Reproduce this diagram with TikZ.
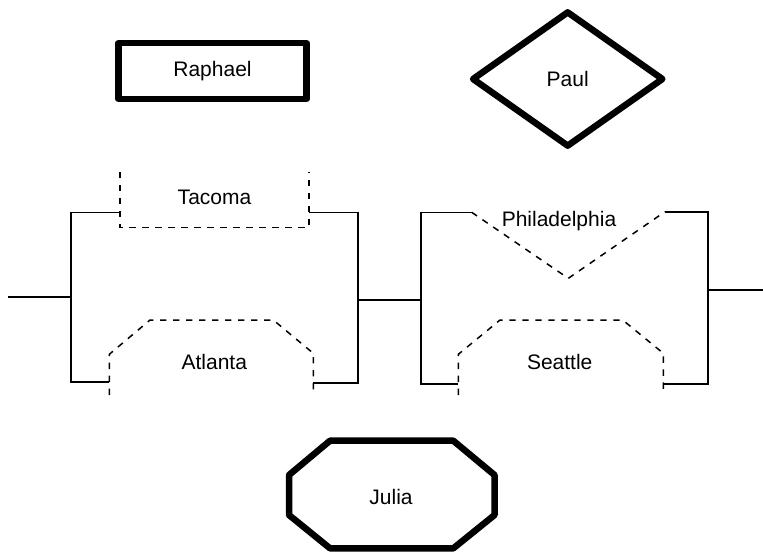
\documentclass[tikz,border=0pt]{standalone}
\usepackage{fontspec}
\setmainfont{Liberation Sans}
\usepackage{tikz}
\usetikzlibrary{shapes.geometric}

\begin{document}
\begin{tikzpicture}	[
		x = 0.5pt,
		y = -0.5pt,
		font = \fontsize{10.5}{12}\selectfont,
		wire/.style = {
			line width = 0.8pt
		},
		gate/.style = {
			line width = 0.75pt,
			dash pattern = on 3.2pt off 3.3pt
		},
		heavy/.style = {
			draw,
			line width = 3.25pt,
			line join = round,
			inner sep = 0pt
		}
	]
	\useasboundingbox (0,0) rectangle (763,554);

	\node [heavy, rectangle, minimum width=94pt, minimum height=28pt] (raphael) at (212.5,71) {Raphael};
	\node [heavy, diamond, minimum width=96pt, minimum height=68pt] (paul) at (567.7,79) {Paul};

	\node (julia) at (391,496.7) {Julia};
	\draw [heavy] (330,440.7) -- (453.3,440.7) -- (494.5,475) -- (494.5,515)
		-- (453.3,548.3) -- (330,548.3) -- (289,515) -- (289,475) -- cycle;

	% left block
	\draw [wire] (8,297) -- (70.7,297);
	\draw [wire] (120,212.3) -- (70.7,212.3) -- (70.7,382) -- (109.3,382);
	\draw [wire] (309,212.3) -- (357.7,212.3) -- (357.7,383) -- (313.3,383);
	\draw [wire] (357.7,300) -- (421,300);

	\draw [gate] (120,172) -- (120,227.7) -- (309,227.7) -- (309,172);
	\node (tacoma) at (214.5,197.7) {Tacoma};

	\draw [gate] (109.3,395) -- (109.3,354.3) -- (150,320) -- (273.3,320) -- (313.3,353.3) -- (313.3,395);
	\node (atlanta) at (214.3,361.7) {Atlanta};

	% right block
	\draw [wire] (471.7,212.3) -- (421,212.3) -- (421,384) -- (458.3,384);
	\draw [wire] (665,211.7) -- (707.7,211.7) -- (707.7,384) -- (663.3,384);
	\draw [wire] (707.7,290) -- (762.7,290);

	\draw [gate] (471.7,212.3) -- (568.3,278.3) -- (665,211.7);
	\node (philadelphia) at (559,221) {Philadelphia};

	\draw [gate] (458.3,395) -- (458.3,354.3) -- (500,320) -- (622.7,320) -- (663.3,353.3) -- (663.3,395);
	\node (seattle) at (559.7,361.7) {Seattle};
\end{tikzpicture}
\end{document}
